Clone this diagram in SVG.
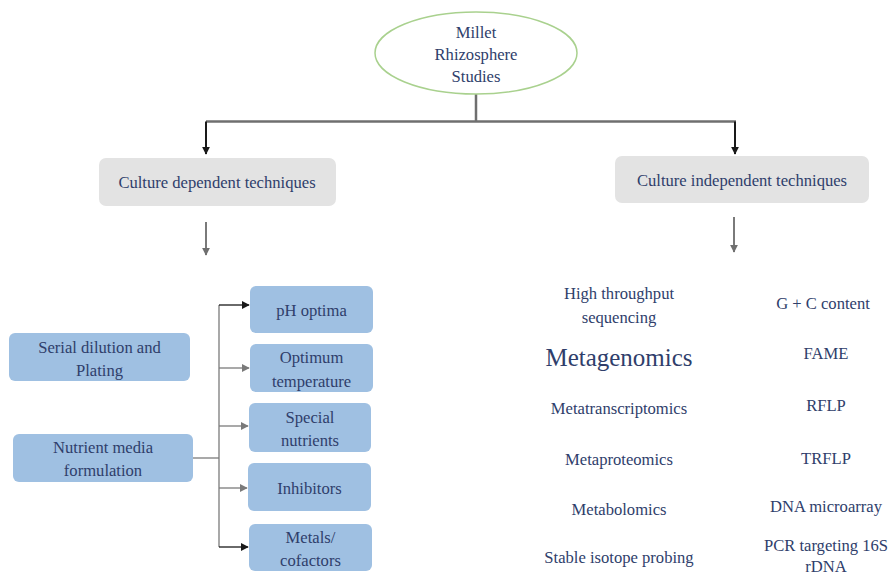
<svg xmlns="http://www.w3.org/2000/svg" width="891" height="576" viewBox="0 0 891 576">
<defs>
<marker id="ab" viewBox="0 0 10 10" refX="9" refY="5" markerWidth="4" markerHeight="4" orient="auto"><path d="M0,0 L10,5 L0,10 z" fill="#1a1a1a"/></marker>
<marker id="ag" viewBox="0 0 10 10" refX="9" refY="5" markerWidth="4" markerHeight="4" orient="auto"><path d="M0,0 L10,5 L0,10 z" fill="#6f6f6f"/></marker>
<marker id="sb" viewBox="0 0 10 10" refX="9" refY="5" markerWidth="6" markerHeight="6" orient="auto"><path d="M0,0 L10,5 L0,10 z" fill="#1a1a1a"/></marker>
<marker id="sg" viewBox="0 0 10 10" refX="9" refY="5" markerWidth="6" markerHeight="6" orient="auto"><path d="M0,0 L10,5 L0,10 z" fill="#7a7a7a"/></marker>
</defs>
<style>
text{font-family:"Liberation Serif","Times New Roman",serif;font-size:16.6px;fill:#2f3e6b;text-anchor:middle;dominant-baseline:central}
.grey{fill:#e3e3e3}
.blue{fill:#9fc0e2}
.big{font-size:25px}
</style>
<rect width="891" height="576" fill="#ffffff"/>
<g id="connectors" fill="none">
<path d="M476,94 V121.5" stroke="#6f6f6f" stroke-width="2.5"/>
<path d="M206,121.5 H736" stroke="#6f6f6f" stroke-width="2.5"/>
<path d="M206,121.5 V154" stroke="#1a1a1a" stroke-width="2" marker-end="url(#ab)"/>
<path d="M735,121.5 V154" stroke="#1a1a1a" stroke-width="2" marker-end="url(#ab)"/>
<path d="M206,222 V255" stroke="#7a7a7a" stroke-width="2" marker-end="url(#ag)"/>
<path d="M734,217 V252" stroke="#7a7a7a" stroke-width="2" marker-end="url(#ag)"/>
<path d="M193,458 H219" stroke="#7a7a7a" stroke-width="1.3"/>
<path d="M219,305 V547" stroke="#7a7a7a" stroke-width="1.3"/>
<path d="M219,305 H249" stroke="#1a1a1a" stroke-width="1.3" marker-end="url(#sb)"/>
<path d="M219,368 H249" stroke="#7a7a7a" stroke-width="1.3" marker-end="url(#sg)"/>
<path d="M219,426 H248" stroke="#7a7a7a" stroke-width="1.3" marker-end="url(#sg)"/>
<path d="M219,488 H247" stroke="#7a7a7a" stroke-width="1.3" marker-end="url(#sg)"/>
<path d="M219,547 H248" stroke="#1a1a1a" stroke-width="1.3" marker-end="url(#sb)"/>
</g>
<g id="root">
<ellipse cx="476" cy="53" rx="101" ry="41" fill="#ffffff" stroke="#a9d18e" stroke-width="1.5"/>
<text x="476" y="32">Millet</text>
<text x="476" y="54">Rhizosphere</text>
<text x="476" y="76">Studies</text>
</g>
<g id="culture-dependent">
<rect class="grey" x="99" y="158" width="237" height="48" rx="7"/>
<text x="217" y="182">Culture dependent techniques</text>
</g>
<g id="culture-independent">
<rect class="grey" x="615" y="156" width="254" height="47" rx="7"/>
<text x="742" y="180">Culture independent techniques</text>
</g>
<g id="serial-dilution">
<rect class="blue" x="9" y="333" width="181" height="48" rx="6"/>
<text x="99.5" y="347">Serial dilution and</text>
<text x="99.5" y="370">Plating</text>
</g>
<g id="nutrient-media">
<rect class="blue" x="13" y="434" width="180" height="48" rx="6"/>
<text x="103" y="447">Nutrient media</text>
<text x="103" y="470">formulation</text>
</g>
<g id="ph-optima">
<rect class="blue" x="250" y="286" width="123" height="47" rx="6"/>
<text x="311.5" y="310">pH optima</text>
</g>
<g id="optimum-temperature">
<rect class="blue" x="250" y="344" width="123" height="48" rx="6"/>
<text x="311.5" y="357">Optimum</text>
<text x="311.5" y="381">temperature</text>
</g>
<g id="special-nutrients">
<rect class="blue" x="249" y="403" width="122" height="49" rx="6"/>
<text x="310" y="417">Special</text>
<text x="310" y="440">nutrients</text>
</g>
<g id="inhibitors">
<rect class="blue" x="248" y="463" width="123" height="48" rx="6"/>
<text x="309.5" y="488">Inhibitors</text>
</g>
<g id="metals-cofactors">
<rect class="blue" x="249" y="524" width="123" height="47" rx="6"/>
<text x="310.5" y="537">Metals/</text>
<text x="310.5" y="560">cofactors</text>
</g>
<g id="culture-independent-methods">
<text x="619" y="293">High throughput</text>
<text x="619" y="317">sequencing</text>
<text class="big" x="619" y="357">Metagenomics</text>
<text x="619" y="408">Metatranscriptomics</text>
<text x="619" y="459">Metaproteomics</text>
<text x="619" y="509">Metabolomics</text>
<text x="619" y="557">Stable isotope probing</text>
<text x="823" y="303">G + C content</text>
<text x="826" y="353">FAME</text>
<text x="826" y="405">RFLP</text>
<text x="826" y="458">TRFLP</text>
<text x="826" y="506">DNA microarray</text>
<text x="826" y="545">PCR targeting 16S</text>
<text x="826" y="566">rDNA</text>
</g>
</svg>
